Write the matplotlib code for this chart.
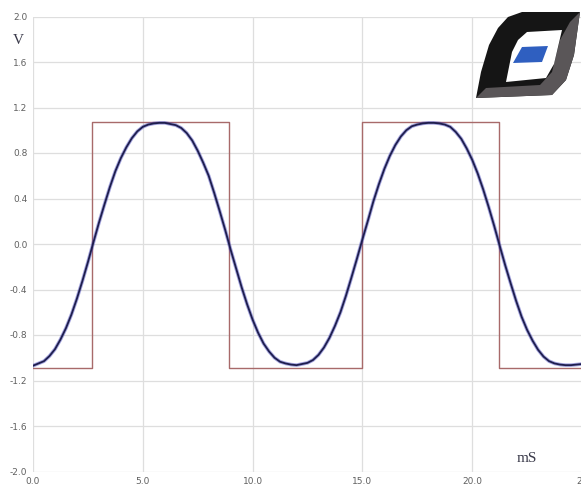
import numpy as np
import matplotlib.pyplot as plt
from matplotlib.patches import Polygon

# time axis (ms) for the measured output trace
t_ms = np.arange(0, 25.001, 0.25)
# measured output voltage (V)
v_out = [-1.07, -1.05, -1.03, -0.985, -0.925, -0.84, -0.74, -0.62, -0.48, -0.325,
         -0.16, 0.014, 0.185, 0.345, 0.50, 0.64, 0.755, 0.85, 0.93, 0.99,
         1.03, 1.05, 1.06, 1.065,
         1.065, 1.055, 1.045, 1.02, 0.975, 0.91, 0.82, 0.715, 0.60, 0.45,
         0.29, 0.125, -0.05, -0.215, -0.38, -0.53, -0.665, -0.78, -0.875, -0.945,
         -1.0, -1.035, -1.05, -1.06,
         -1.065, -1.055, -1.045, -1.02, -0.975, -0.91, -0.825, -0.72, -0.60, -0.455,
         -0.295, -0.13, 0.04, 0.205, 0.375, 0.525, 0.66, 0.775, 0.87, 0.945,
         1.0, 1.035, 1.05, 1.06, 1.065,
         1.065, 1.06, 1.05, 1.03, 0.985, 0.925, 0.84, 0.74, 0.62, 0.48,
         0.325, 0.16, -0.014, -0.185, -0.345, -0.50, -0.64, -0.755, -0.85, -0.93,
         -0.99, -1.03, -1.05, -1.06, -1.065, -1.065, -1.06, -1.055]

# square drive signal: switching instants (ms) and levels (V)
sq_t = [0, 2.7, 8.93, 14.99, 21.23, 25]
sq_v = [-1.09, 1.07, -1.09, 1.07, -1.09, -1.09]

x_ticks = [0, 5, 10, 15, 20, 25]
x_labels = ['0.0', '5.0', '10.0', '15.0', '20.0', '25']
y_ticks = [2.0, 1.6, 1.2, 0.8, 0.4, 0.0, -0.4, -0.8, -1.2, -1.6, -2.0]
y_labels = ['2.0', '1.6', '1.2', '0.8', '0.4', '0.0', '-0.4', '-0.8', '-1.2', '-1.6', '-2.0']

fig = plt.figure(figsize=(5.81, 4.97), dpi=100)
ax = fig.add_axes([33 / 581, 25.5 / 497, 549 / 581, 455 / 497])

ax.plot(sq_t, sq_v, drawstyle='steps-post', color='#a86a6a', lw=1.0, zorder=3)
ax.plot(t_ms, v_out, color='#3a3ab8', lw=2.6, alpha=0.45, zorder=4)
ax.plot(t_ms, v_out, color='#1e1e4e', lw=1.3, zorder=5)

ax.set_xlim(0, 25)
ax.set_ylim(-2.0, 2.0)
ax.set_xticks(x_ticks)
ax.set_xticklabels(x_labels)
ax.set_yticks(y_ticks)
ax.set_yticklabels(y_labels)
ax.tick_params(length=0, labelsize=6.5, labelcolor='#606060', pad=4)
ax.grid(True, color='#dedede', lw=0.9)
ax.set_axisbelow(True)
for s in ax.spines.values():
    s.set_visible(False)

# unit labels
fig.text(18 / 581, 1 - 40 / 497, 'V', family='Liberation Serif', fontsize=11,
         color='#3a3a4a', ha='center', va='center')
fig.text(527 / 581, 1 - 458 / 497, 'mS', family='Liberation Serif', fontsize=11,
         color='#3a3a4a', ha='center', va='center')

# logo in the top right corner, drawn in pixel coordinates
lg = fig.add_axes([0, 0, 1, 1], zorder=10)
lg.set_xlim(0, 581)
lg.set_ylim(497, 0)
lg.axis('off')
outer = [(580, 12), (574, 55), (566, 80), (552, 95), (476, 98), (481, 72),
         (489, 45), (498, 28), (508, 17), (522, 12)]
lg.add_patch(Polygon(outer, closed=True, fc='#151515', ec='none'))
lower = [(580, 12), (574, 55), (566, 80), (552, 95), (476, 98), (486, 88),
         (540, 85), (552, 72), (560, 40), (570, 22)]
lg.add_patch(Polygon(lower, closed=True, fc='#5a5658', ec='none'))
inner = [(527, 32), (562, 30), (554, 64), (546, 78), (506, 82), (512, 52), (518, 40)]
lg.add_patch(Polygon(inner, closed=True, fc='white', ec='none'))
blue = [(522, 47), (548, 46), (542, 62), (513, 63)]
lg.add_patch(Polygon(blue, closed=True, fc='#2f5fc0', ec='none'))

fig.savefig('out.png', dpi=100)
